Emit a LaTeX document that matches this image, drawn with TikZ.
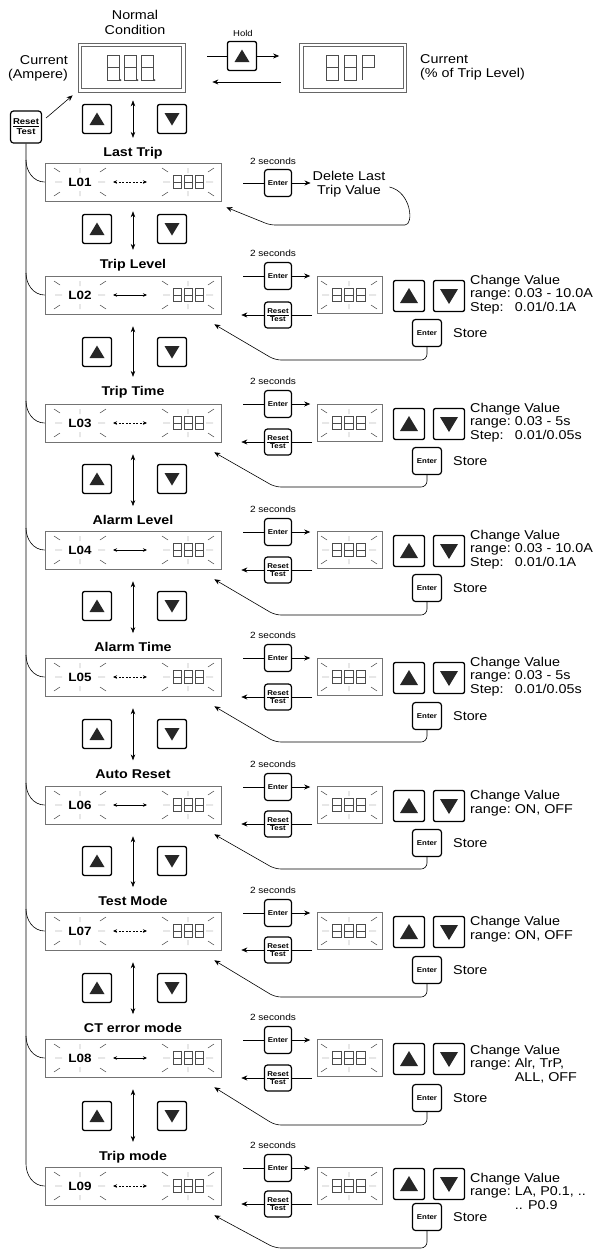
\documentclass[tikz,border=0pt]{standalone}
\usepackage{fontspec}
\setmainfont{Liberation Sans}[FakeStretch=1.12]
\usetikzlibrary{arrows.meta,calc}

% blinking ticks round a display field
\newcommand{\blink}[3]{%
  \draw[ray] ({#1-#3},#2) -- ++(7,0) ({#1+#3},#2) -- ++(-7,0)
    (#1,{#2-14}) -- ++(0,5) (#1,{#2+14}) -- ++(0,-5)
    ({#1-#3-1},{#2-14}) -- ++(6,4) ({#1+#3+1},{#2-14}) -- ++(-6,4)
    ({#1-#3-1},{#2+14}) -- ++(6,-4) ({#1+#3+1},{#2+14}) -- ++(-6,-4);}
% segment digits
\newcommand{\segE}[4]{%
  \draw[seg] ({#1-#3/2},{#2-#4/2}) rectangle ({#1+#3/2},{#2+#4/2})
    ({#1-#3/2},#2) -- ({#1+#3/2},#2);}
\newcommand{\segP}[4]{%
  \draw[seg] ({#1-#3/2},{#2-#4/2}) rectangle ({#1+#3/2},#2)
    ({#1-#3/2},#2) -- ({#1-#3/2},{#2+#4/2});}
\newcommand{\segrow}[4]{\segE{#1-#3}{#2}{#4}{13}\segE{#1}{#2}{#4}{13}\segE{#1+#3}{#2}{#4}{13}}

\begin{document}
\begin{tikzpicture}[x=1pt,y=-1pt,
  ray/.style={line width=0.45pt, black!75},
  seg/.style={line width=0.55pt, black!70},
  conn/.style={line width=0.6pt},
  arr/.style={line width=0.6pt, -{Stealth[length=6pt,width=5pt]}},
  updn/.style={line width=0.6pt, {Stealth[length=6pt,width=4.5pt]}-{Stealth[length=6pt,width=4.5pt]}},
  lr/.style={line width=0.7pt, {Stealth[length=4pt,width=3.5pt]}-{Stealth[length=4pt,width=3.5pt]}},
  lcd/.style={draw=black!55, line width=0.6pt, minimum width=176pt, minimum height=38pt, inner sep=0pt},
  sdisp/.style={draw=black!55, line width=0.6pt, minimum width=65pt, minimum height=37pt, inner sep=0pt},
  mdisp/.style={draw=black!60, line width=0.7pt, minimum width=107pt, minimum height=49pt, inner sep=0pt},
  key/.style={draw, line width=1.3pt, rounded corners=2pt, minimum size=29pt, inner sep=0pt},
  upkey/.style={key, path picture={\fill[black!85, sharp corners, shift={(path picture bounding box.center)}] (0pt,6.5pt) -- (7.5pt,-6pt) -- (-7.5pt,-6pt) -- cycle;}},
  dnkey/.style={key, path picture={\fill[black!85, sharp corners, shift={(path picture bounding box.center)}] (0pt,-6.5pt) -- (7.5pt,6pt) -- (-7.5pt,6pt) -- cycle;}},
  bigup/.style={key, minimum size=31pt, path picture={\fill[black!85, sharp corners, shift={(path picture bounding box.center)}] (0pt,8pt) -- (9pt,-7pt) -- (-9pt,-7pt) -- cycle;}},
  bigdn/.style={key, minimum size=31pt, path picture={\fill[black!85, sharp corners, shift={(path picture bounding box.center)}] (0pt,-8pt) -- (9pt,7pt) -- (-9pt,7pt) -- cycle;}},
  enterbtn/.style={draw, line width=1.2pt, rounded corners=3pt, minimum width=27pt, minimum height=27pt, inner sep=0pt, font=\fontsize{7}{8}\selectfont\bfseries},
  resetbtn/.style={enterbtn, minimum height=26pt, align=center, font=\fontsize{7}{8}\selectfont\bfseries},
  ttl/.style={inner sep=1pt, font=\fontsize{12.7}{14}\selectfont\bfseries},
  lname/.style={inner sep=0pt, font=\fontsize{12}{14}\selectfont\bfseries},
  txt/.style={inner sep=0pt, font=\fontsize{12.8}{13.5}\selectfont},
  twosec/.style={inner sep=0pt, font=\fontsize{9}{10}\selectfont}]

\useasboundingbox (0,0) rectangle (598,1251);

% normal condition
\node[txt, align=center, font=\fontsize{12.8}{15}\selectfont] (nc) at (135,22.5) {Normal\\Condition};
\node[mdisp] (disp) at (131.5,67.5) {};
\draw[draw=black!60, line width=0.6pt] ([shift={(4,4)}]disp.north west) rectangle ([shift={(-4,-4)}]disp.south east);
\segE{113}{67.5}{12}{25} \segE{130}{67.5}{12}{25} \segE{147}{67.5}{12}{25}
\fill[black!70] (120.5,80) circle (1pt) (137.5,80) circle (1pt) (154.5,80) circle (1pt);
\node[txt, align=right, anchor=east] (amp) at (68,68.5) {Current\\(Ampere)};
\node[twosec, font=\fontsize{8.5}{10}\selectfont] (holdl) at (243,33) {Hold};
\node[upkey] (hold) at (242,56) {};
\node[mdisp] (pdisp) at (353,67.5) {};
\draw[draw=black!60, line width=0.6pt] ([shift={(4,4)}]pdisp.north west) rectangle ([shift={(-4,-4)}]pdisp.south east);
\segE{332}{67.5}{12}{25} \segE{350}{67.5}{12}{25} \segP{368}{67.5}{12}{25}
\node[txt, align=left, anchor=west] (pct) at (420,67.5) {Current\\(\% of Trip Level)};
\draw[conn, shorten <=22pt] (disp.east |- hold.west) -- (hold.west);
\draw[arr, shorten >=20pt] (hold.east) -- (pdisp.west |- hold.east);
\draw[arr, shorten <=18pt, shorten >=27pt] ([shift={(0,14.5)}]pdisp.west) -- ([shift={(0,14.5)}]disp.east);

\node[resetbtn, minimum width=31pt, minimum height=32pt, font=\fontsize{8.5}{10}\selectfont\bfseries] (rst) at (26,127) {\underline{Reset}\\Test};
\draw[arr] ([shift={(4,-9)}]rst.east) -- ([shift={(-5,3)}]disp.south west);
\node[upkey] (up0) at (97,119) {};
\node[dnkey] (dn0) at (172,119) {};

% L01 last trip
\node[ttl] (T1) at (133,153) {Last Trip};
\draw[updn] ($(T1.north |- disp.south)+(0,8)$) -- ([shift={(0,-8)}]T1.north);
\node[lcd] (L1) at (133,182) {};
\node[lname] (N1) at (80,182) {L01};
\blink{80}{182}{25} \blink{188}{182}{25}
\segrow{188}{182}{11}{8}
\draw[lr, dash pattern=on 2pt off 1.5pt] ([shift={(-20,0)}]L1.center) -- ([shift={(14,0)}]L1.center);
\draw[conn] ($(rst.south |- L1.west)+(0,-22)$) to[out=-90,in=180] (L1.west);
\node[twosec] (S1) at (273,161) {2 seconds};
\node[enterbtn] (E1) at (278,183) {Enter};
\node[txt, align=center] (del) at (349,184) {Delete Last\\Trip Value};
\draw[conn, shorten <=22pt] (L1.east |- E1.west) -- (E1.west);
\draw[arr, shorten >=2pt] (E1.east) -- (del.west |- E1.east);
\coordinate (B1a) at (400,225);
\coordinate (B1b) at (270,225);
\draw[arr, rounded corners=5pt] ([shift={(4,3)}]del.east) .. controls +(22,5) and +(14,0) .. (B1a) -- (B1b) -- ([shift={(5,6)}]L1.south east);

% L02 trip level
\node[ttl] (T2) at (133,265) {Trip Level};
\draw[updn] ([shift={(0,10)}]L1.south) -- ([shift={(0,-8)}]T2.north);
\node[upkey] (up1) at (97,229) {};
\node[dnkey] (dn1) at (172,229) {};
\node[lcd] (L2) at (133,295) {};
\node[lname] (N2) at (80,295) {L02};
\blink{80}{295}{25} \blink{188}{295}{25}
\segrow{188}{295}{11}{8}
\draw[lr] ([shift={(-20,0)}]L2.center) -- ([shift={(14,0)}]L2.center);
\draw[conn] ($(rst.south |- L2.west)+(0,-22)$) to[out=-90,in=180] (L2.west);
\node[twosec] (S2) at (273,253) {2 seconds};
\node[enterbtn] (E2) at (278,276) {Enter};
\node[resetbtn] (R2) at (278,315) {\underline{Reset}\\Test};
\node[sdisp] (D2) at (350,295) {};
\blink{349}{295}{27}
\segrow{349}{295}{12}{9}
\node[bigup] (U2) at (409,296) {};
\node[bigdn] (V2) at (449,296) {};
\node[txt, anchor=west] (C2) at (470,295) {\begin{tabular}{@{}l@{\ }l@{}}\multicolumn{2}{@{}l@{}}{Change Value}\\ range: & 0.03 - 10.0A\\ Step: & 0.01/0.1A\end{tabular}};
\node[enterbtn, minimum width=29pt] (K2) at (427,333) {Enter};
\node[txt, anchor=west] (W2) at (453,333) {Store};
\draw[conn, shorten <=22pt] (L2.east |- E2.west) -- (E2.west);
\draw[arr, shorten >=7pt] (E2.east) -- (D2.west |- E2.east);
\draw[conn, shorten <=5pt] (D2.west |- R2.east) -- (R2.east);
\draw[arr, shorten >=20pt] (R2.west) -- (L2.east |- R2.west);
\coordinate (B2) at (275,360);
\draw[arr, rounded corners=6pt] (K2.south) |- (B2) -- ([shift={(-7,10)}]L2.south east);

% L03 trip time
\node[ttl] (T3) at (133,392) {Trip Time};
\draw[updn] ([shift={(0,12)}]L2.south) -- ([shift={(0,-8)}]T3.north);
\node[upkey] (up2) at (97,352) {};
\node[dnkey] (dn2) at (172,352) {};
\node[lcd] (L3) at (133,423) {};
\node[lname] (N3) at (80,423) {L03};
\blink{80}{423}{25} \blink{188}{423}{25}
\segrow{188}{423}{11}{8}
\draw[lr, dash pattern=on 2pt off 1.5pt] ([shift={(-20,0)}]L3.center) -- ([shift={(14,0)}]L3.center);
\draw[conn] ($(rst.south |- L3.west)+(0,-22)$) to[out=-90,in=180] (L3.west);
\node[twosec] (S3) at (273,381) {2 seconds};
\node[enterbtn] (E3) at (278,404) {Enter};
\node[resetbtn] (R3) at (278,442) {\underline{Reset}\\Test};
\node[sdisp] (D3) at (350,423) {};
\blink{349}{423}{27}
\segrow{349}{423}{12}{9}
\node[bigup] (U3) at (409,424) {};
\node[bigdn] (V3) at (449,424) {};
\node[txt, anchor=west] (C3) at (470,423) {\begin{tabular}{@{}l@{\ }l@{}}\multicolumn{2}{@{}l@{}}{Change Value}\\ range: & 0.03 - 5s\\ Step: & 0.01/0.05s\end{tabular}};
\node[enterbtn, minimum width=29pt] (K3) at (427,461) {Enter};
\node[txt, anchor=west] (W3) at (453,461) {Store};
\draw[conn, shorten <=22pt] (L3.east |- E3.west) -- (E3.west);
\draw[arr, shorten >=7pt] (E3.east) -- (D3.west |- E3.east);
\draw[conn, shorten <=5pt] (D3.west |- R3.east) -- (R3.east);
\draw[arr, shorten >=20pt] (R3.west) -- (L3.east |- R3.west);
\coordinate (B3) at (275,487);
\draw[arr, rounded corners=6pt] (K3.south) |- (B3) -- ([shift={(-7,10)}]L3.south east);

% L04 alarm level
\node[ttl] (T4) at (133,520) {Alarm Level};
\draw[updn] ([shift={(0,12)}]L3.south) -- ([shift={(0,-8)}]T4.north);
\node[upkey] (up3) at (97,479) {};
\node[dnkey] (dn3) at (172,479) {};
\node[lcd] (L4) at (133,550) {};
\node[lname] (N4) at (80,550) {L04};
\blink{80}{550}{25} \blink{188}{550}{25}
\segrow{188}{550}{11}{8}
\draw[lr] ([shift={(-20,0)}]L4.center) -- ([shift={(14,0)}]L4.center);
\draw[conn] ($(rst.south |- L4.west)+(0,-22)$) to[out=-90,in=180] (L4.west);
\node[twosec] (S4) at (273,509) {2 seconds};
\node[enterbtn] (E4) at (278,532) {Enter};
\node[resetbtn] (R4) at (278,570) {\underline{Reset}\\Test};
\node[sdisp] (D4) at (350,550) {};
\blink{349}{550}{27}
\segrow{349}{550}{12}{9}
\node[bigup] (U4) at (409,551) {};
\node[bigdn] (V4) at (449,551) {};
\node[txt, anchor=west] (C4) at (470,550) {\begin{tabular}{@{}l@{\ }l@{}}\multicolumn{2}{@{}l@{}}{Change Value}\\ range: & 0.03 - 10.0A\\ Step: & 0.01/0.1A\end{tabular}};
\node[enterbtn, minimum width=29pt] (K4) at (427,588) {Enter};
\node[txt, anchor=west] (W4) at (453,588) {Store};
\draw[conn, shorten <=22pt] (L4.east |- E4.west) -- (E4.west);
\draw[arr, shorten >=7pt] (E4.east) -- (D4.west |- E4.east);
\draw[conn, shorten <=5pt] (D4.west |- R4.east) -- (R4.east);
\draw[arr, shorten >=20pt] (R4.west) -- (L4.east |- R4.west);
\coordinate (B4) at (275,615);
\draw[arr, rounded corners=6pt] (K4.south) |- (B4) -- ([shift={(-7,10)}]L4.south east);

% L05 alarm time
\node[ttl] (T5) at (133,647) {Alarm Time};
\draw[updn] ([shift={(0,12)}]L4.south) -- ([shift={(0,-8)}]T5.north);
\node[upkey] (up4) at (97,606) {};
\node[dnkey] (dn4) at (172,606) {};
\node[lcd] (L5) at (133,677) {};
\node[lname] (N5) at (80,677) {L05};
\blink{80}{677}{25} \blink{188}{677}{25}
\segrow{188}{677}{11}{8}
\draw[lr, dash pattern=on 2pt off 1.5pt] ([shift={(-20,0)}]L5.center) -- ([shift={(14,0)}]L5.center);
\draw[conn] ($(rst.south |- L5.west)+(0,-22)$) to[out=-90,in=180] (L5.west);
\node[twosec] (S5) at (273,635) {2 seconds};
\node[enterbtn] (E5) at (278,658) {Enter};
\node[resetbtn] (R5) at (278,697) {\underline{Reset}\\Test};
\node[sdisp] (D5) at (350,677) {};
\blink{349}{677}{27}
\segrow{349}{677}{12}{9}
\node[bigup] (U5) at (409,678) {};
\node[bigdn] (V5) at (449,678) {};
\node[txt, anchor=west] (C5) at (470,677) {\begin{tabular}{@{}l@{\ }l@{}}\multicolumn{2}{@{}l@{}}{Change Value}\\ range: & 0.03 - 5s\\ Step: & 0.01/0.05s\end{tabular}};
\node[enterbtn, minimum width=29pt] (K5) at (427,716) {Enter};
\node[txt, anchor=west] (W5) at (453,716) {Store};
\draw[conn, shorten <=22pt] (L5.east |- E5.west) -- (E5.west);
\draw[arr, shorten >=7pt] (E5.east) -- (D5.west |- E5.east);
\draw[conn, shorten <=5pt] (D5.west |- R5.east) -- (R5.east);
\draw[arr, shorten >=20pt] (R5.west) -- (L5.east |- R5.west);
\coordinate (B5) at (275,742);
\draw[arr, rounded corners=6pt] (K5.south) |- (B5) -- ([shift={(-7,10)}]L5.south east);

% L06 auto reset
\node[ttl] (T6) at (133,774) {Auto Reset};
\draw[updn] ([shift={(0,12)}]L5.south) -- ([shift={(0,-8)}]T6.north);
\node[upkey] (up5) at (97,734) {};
\node[dnkey] (dn5) at (172,734) {};
\node[lcd] (L6) at (133,805) {};
\node[lname] (N6) at (80,805) {L06};
\blink{80}{805}{25} \blink{188}{805}{25}
\segrow{188}{805}{11}{8}
\draw[lr] ([shift={(-20,0)}]L6.center) -- ([shift={(14,0)}]L6.center);
\draw[conn] ($(rst.south |- L6.west)+(0,-22)$) to[out=-90,in=180] (L6.west);
\node[twosec] (S6) at (273,764) {2 seconds};
\node[enterbtn] (E6) at (278,787) {Enter};
\node[resetbtn] (R6) at (278,824) {\underline{Reset}\\Test};
\node[sdisp] (D6) at (350,805) {};
\blink{349}{805}{27}
\segrow{349}{805}{12}{9}
\node[bigup] (U6) at (409,806) {};
\node[bigdn] (V6) at (449,806) {};
\node[txt, anchor=west] (C6) at (470,804) {\begin{tabular}{@{}l@{\ }l@{}}\multicolumn{2}{@{}l@{}}{Change Value}\\ range: & ON, OFF\end{tabular}};
\node[enterbtn, minimum width=29pt] (K6) at (427,843) {Enter};
\node[txt, anchor=west] (W6) at (453,843) {Store};
\draw[conn, shorten <=22pt] (L6.east |- E6.west) -- (E6.west);
\draw[arr, shorten >=7pt] (E6.east) -- (D6.west |- E6.east);
\draw[conn, shorten <=5pt] (D6.west |- R6.east) -- (R6.east);
\draw[arr, shorten >=20pt] (R6.west) -- (L6.east |- R6.west);
\coordinate (B6) at (275,869);
\draw[arr, rounded corners=6pt] (K6.south) |- (B6) -- ([shift={(-7,10)}]L6.south east);

% L07 test mode
\node[ttl] (T7) at (133,901) {Test Mode};
\draw[updn] ([shift={(0,12)}]L6.south) -- ([shift={(0,-8)}]T7.north);
\node[upkey] (up6) at (97,861) {};
\node[dnkey] (dn6) at (172,861) {};
\node[lcd] (L7) at (133,931) {};
\node[lname] (N7) at (80,931) {L07};
\blink{80}{931}{25} \blink{188}{931}{25}
\segrow{188}{931}{11}{8}
\draw[lr, dash pattern=on 2pt off 1.5pt] ([shift={(-20,0)}]L7.center) -- ([shift={(14,0)}]L7.center);
\draw[conn] ($(rst.south |- L7.west)+(0,-22)$) to[out=-90,in=180] (L7.west);
\node[twosec] (S7) at (273,890) {2 seconds};
\node[enterbtn] (E7) at (278,913) {Enter};
\node[resetbtn] (R7) at (278,950) {\underline{Reset}\\Test};
\node[sdisp] (D7) at (350,931) {};
\blink{349}{931}{27}
\segrow{349}{931}{12}{9}
\node[bigup] (U7) at (409,932) {};
\node[bigdn] (V7) at (449,932) {};
\node[txt, anchor=west] (C7) at (470,930) {\begin{tabular}{@{}l@{\ }l@{}}\multicolumn{2}{@{}l@{}}{Change Value}\\ range: & ON, OFF\end{tabular}};
\node[enterbtn, minimum width=29pt] (K7) at (427,970) {Enter};
\node[txt, anchor=west] (W7) at (453,970) {Store};
\draw[conn, shorten <=22pt] (L7.east |- E7.west) -- (E7.west);
\draw[arr, shorten >=7pt] (E7.east) -- (D7.west |- E7.east);
\draw[conn, shorten <=5pt] (D7.west |- R7.east) -- (R7.east);
\draw[arr, shorten >=20pt] (R7.west) -- (L7.east |- R7.west);
\coordinate (B7) at (275,997);
\draw[arr, rounded corners=6pt] (K7.south) |- (B7) -- ([shift={(-7,10)}]L7.south east);

% L08 CT error mode
\node[ttl] (T8) at (133,1028) {CT error mode};
\draw[updn] ([shift={(0,12)}]L7.south) -- ([shift={(0,-8)}]T8.north);
\node[upkey] (up7) at (97,988) {};
\node[dnkey] (dn7) at (172,988) {};
\node[lcd] (L8) at (133,1058) {};
\node[lname] (N8) at (80,1058) {L08};
\blink{80}{1058}{25} \blink{188}{1058}{25}
\segrow{188}{1058}{11}{8}
\draw[lr] ([shift={(-20,0)}]L8.center) -- ([shift={(14,0)}]L8.center);
\draw[conn] ($(rst.south |- L8.west)+(0,-22)$) to[out=-90,in=180] (L8.west);
\node[twosec] (S8) at (273,1017) {2 seconds};
\node[enterbtn] (E8) at (278,1040) {Enter};
\node[resetbtn] (R8) at (278,1078) {\underline{Reset}\\Test};
\node[sdisp] (D8) at (350,1058) {};
\blink{349}{1058}{27}
\segrow{349}{1058}{12}{9}
\node[bigup] (U8) at (409,1059) {};
\node[bigdn] (V8) at (449,1059) {};
\node[txt, anchor=west] (C8) at (470,1065) {\begin{tabular}{@{}l@{\ }l@{}}\multicolumn{2}{@{}l@{}}{Change Value}\\ range: & Alr, TrP,\\ & ALL, OFF\end{tabular}};
\node[enterbtn, minimum width=29pt] (K8) at (427,1098) {Enter};
\node[txt, anchor=west] (W8) at (453,1098) {Store};
\draw[conn, shorten <=22pt] (L8.east |- E8.west) -- (E8.west);
\draw[arr, shorten >=7pt] (E8.east) -- (D8.west |- E8.east);
\draw[conn, shorten <=5pt] (D8.west |- R8.east) -- (R8.east);
\draw[arr, shorten >=20pt] (R8.west) -- (L8.east |- R8.west);
\coordinate (B8) at (275,1125);
\draw[arr, rounded corners=6pt] (K8.south) |- (B8) -- ([shift={(-7,10)}]L8.south east);

% L09 trip mode
\node[ttl] (T9) at (133,1157) {Trip mode};
\draw[updn] ([shift={(0,12)}]L8.south) -- ([shift={(0,-8)}]T9.north);
\node[upkey] (up8) at (97,1116) {};
\node[dnkey] (dn8) at (172,1116) {};
\node[lcd] (L9) at (133,1186) {};
\node[lname] (N9) at (80,1186) {L09};
\blink{80}{1186}{25} \blink{188}{1186}{25}
\segrow{188}{1186}{11}{8}
\draw[lr, dash pattern=on 2pt off 1.5pt] ([shift={(-20,0)}]L9.center) -- ([shift={(14,0)}]L9.center);
\draw[conn] (rst.south) -- ($(rst.south |- L9.west)+(0,-22)$) to[out=-90,in=180] (L9.west);
\node[twosec] (S9) at (273,1145) {2 seconds};
\node[enterbtn] (E9) at (278,1168) {Enter};
\node[resetbtn] (R9) at (278,1204) {\underline{Reset}\\Test};
\node[sdisp] (D9) at (350,1186) {};
\blink{349}{1186}{27}
\segrow{349}{1186}{12}{9}
\node[bigup] (U9) at (409,1184) {};
\node[bigdn] (V9) at (449,1184) {};
\node[txt, anchor=west] (C9) at (470,1193) {\begin{tabular}{@{}l@{\ }l@{}}\multicolumn{2}{@{}l@{}}{Change Value}\\ range: & LA, P0.1, ..\\ & .. P0.9\end{tabular}};
\node[enterbtn, minimum width=29pt] (K9) at (427,1217) {Enter};
\node[txt, anchor=west] (W9) at (453,1217) {Store};
\draw[conn, shorten <=22pt] (L9.east |- E9.west) -- (E9.west);
\draw[arr, shorten >=7pt] (E9.east) -- (D9.west |- E9.east);
\draw[conn, shorten <=5pt] (D9.west |- R9.east) -- (R9.east);
\draw[arr, shorten >=20pt] (R9.west) -- (L9.east |- R9.west);
\coordinate (B9) at (275,1248);
\draw[arr, rounded corners=6pt] (K9.south) |- (B9) -- ([shift={(-7,10)}]L9.south east);

\end{tikzpicture}
\end{document}
